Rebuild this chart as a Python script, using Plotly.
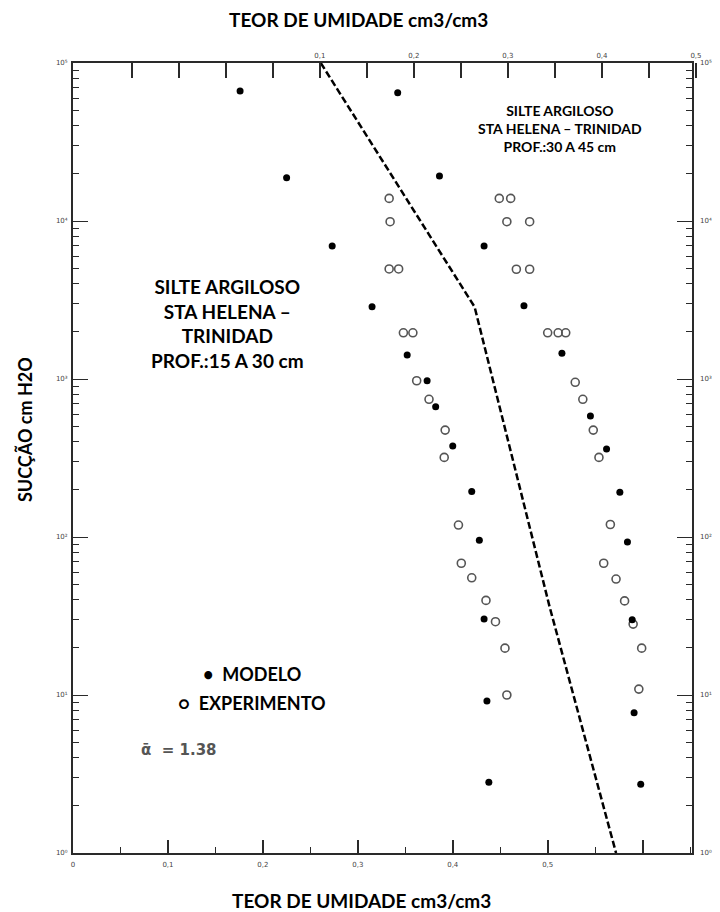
import math
import plotly.graph_objects as go

# ---- data: volumetric water content (cm3/cm3) vs suction (cm H2O) ----
# Silte argiloso, Sta Helena - Trinidad, 15-30 cm
model_15_30_theta = [0.176, 0.225, 0.273, 0.315, 0.352, 0.373, 0.382, 0.400, 0.420, 0.428, 0.433, 0.436, 0.438]
model_15_30_suction = [66500, 18800, 6950, 2870, 1420, 975, 668, 377, 194, 95.3, 30.3, 9.16, 2.80]
exp_15_30_theta = [0.333, 0.334, 0.333, 0.343, 0.348, 0.358, 0.362, 0.375, 0.392, 0.391,
                   0.406, 0.409, 0.420, 0.435, 0.445, 0.455, 0.457]
exp_15_30_suction = [13900, 9900, 4970, 4970, 1960, 1960, 975, 744, 475, 319,
                     119, 68.2, 55.2, 39.7, 29.1, 19.8, 10.0]

# Silte argiloso, Sta Helena - Trinidad, 30-45 cm
model_30_45_theta = [0.342, 0.386, 0.433, 0.475, 0.515, 0.545, 0.562, 0.576, 0.584, 0.589, 0.591, 0.598]
model_30_45_suction = [64900, 19300, 6950, 2910, 1455, 583, 361, 192, 92.9, 29.9, 7.73, 2.72]
exp_30_45_theta = [0.449, 0.461, 0.457, 0.481, 0.467, 0.481, 0.500, 0.511, 0.519, 0.529,
                   0.537, 0.548, 0.554, 0.566, 0.559, 0.572, 0.581, 0.590, 0.599, 0.596]
exp_30_45_suction = [13900, 13900, 9900, 9900, 4950, 4950, 1960, 1960, 1960, 953,
                     744, 475, 319, 120, 68.2, 54.2, 39.4, 28.1, 19.8, 10.9]

# dashed reference curve
curve_theta = [0.261, 0.423, 0.502, 0.572]
curve_suction = [100000, 2860, 36.2, 1.0]

# axis ticks
bottom_tick_vals = [0, 0.1, 0.2, 0.3, 0.4, 0.5, 0.6]
bottom_tick_text = ["0", "0,1", "0,2", "0,3", "0,4", "0,5", ""]
top_tick_vals = [-0.1, -0.05, 0, 0.05, 0.1, 0.15, 0.2, 0.25, 0.3, 0.35, 0.4, 0.45, 0.5]
top_tick_text = ["", "", "", "", "0,1", "", "0,2", "", "0,3", "", "0,4", "", "0,5"]
y_tick_vals = [1, 10, 100, 1000, 10000, 100000]
y_tick_text = ["10⁰", "10¹", "10²", "10³", "10⁴", "10⁵"]
y_minor_vals = [m * d for d in (1, 10, 100, 1000, 10000) for m in range(2, 10)]

AX = "#2a2a2a"
TICKFONT = dict(family="DejaVu Sans", size=7, color="#444")
TXT = "Lato"
CLEAR = "rgba(0,0,0,0)"

fig = go.Figure()

filled = dict(symbol="circle", size=7, color="black")
hollow = dict(symbol="circle-open", size=8, color="#555", line=dict(width=1.6, color="#555"))

fig.add_trace(go.Scatter(x=curve_theta, y=curve_suction, mode="lines",
                         line=dict(color="black", width=2.5, dash="7px,3px"),
                         showlegend=False, hoverinfo="skip"))
fig.add_trace(go.Scatter(x=exp_15_30_theta, y=exp_15_30_suction, mode="markers",
                         marker=hollow, name="EXPERIMENTO 15-30 cm", showlegend=False))
fig.add_trace(go.Scatter(x=exp_30_45_theta, y=exp_30_45_suction, mode="markers",
                         marker=hollow, name="EXPERIMENTO 30-45 cm", showlegend=False))
fig.add_trace(go.Scatter(x=model_15_30_theta, y=model_15_30_suction, mode="markers",
                         marker=filled, name="MODELO 15-30 cm", showlegend=False))
fig.add_trace(go.Scatter(x=model_30_45_theta, y=model_30_45_suction, mode="markers",
                         marker=filled, name="MODELO 30-45 cm", showlegend=False))
# carrier for the top scale (shifted water-content axis)
fig.add_trace(go.Scatter(x=[None], y=[None], xaxis="x2", yaxis="y", showlegend=False, hoverinfo="skip"))

W, H = 720, 912
L, R, T, B = 73, 20, 63, 59
pw, ph = W - L - R, H - T - B
frame_right = 692


def px(x):
    return (x - L) / pw


def py(y):
    return (H - B - y) / ph


fig.update_layout(
    width=W, height=H,
    margin=dict(l=L, r=R, t=T, b=B, pad=0),
    paper_bgcolor="white", plot_bgcolor=CLEAR,
    showlegend=False,
    xaxis=dict(
        domain=[0, (frame_right - L) / pw], range=[0, 0.652],
        showgrid=False, zeroline=False,
        showline=True, linecolor=AX, linewidth=2, mirror=True,
        ticks="inside", ticklen=13, tickwidth=1.5, tickcolor=AX,
        tickvals=bottom_tick_vals, ticktext=bottom_tick_text,
        minor=dict(ticks="inside", ticklen=6, tickwidth=1.2, tickcolor=AX, dtick=0.05, tick0=0, showgrid=False),
        tickfont=TICKFONT, ticklabelstandoff=4,
    ),
    xaxis2=dict(
        domain=[0, 1], range=[-0.1626, 0.5043], anchor="y", side="top",
        showgrid=False, zeroline=False, showline=False,
        ticks="inside", ticklen=15, tickwidth=1.6, tickcolor=AX,
        tickvals=top_tick_vals, ticktext=top_tick_text,
        tickfont=TICKFONT, ticklabelstandoff=3,
    ),
    yaxis=dict(
        type="log", range=[0, 5], anchor="x",
        showgrid=False, zeroline=False,
        showline=True, linecolor=AX, linewidth=2, mirror="ticks",
        ticks="inside", ticklen=15, tickwidth=1.3, tickcolor=AX,
        tickvals=y_tick_vals, ticktext=y_tick_text,
        minor=dict(ticks="inside", ticklen=6, tickwidth=1.1, tickcolor=AX,
                   tickmode="array", tickvals=y_minor_vals, showgrid=False),
        tickfont=TICKFONT, ticklabelstandoff=2,
    ),
)

ann = []


def add_text(text, x, y, size, color="black", family=TXT, align="center"):
    ann.append(dict(text=text, x=px(x), y=py(y), xref="paper", yref="paper",
                    showarrow=False, xanchor="center", yanchor="middle", align=align,
                    font=dict(family=family, size=size, color=color)))


# decade labels repeated on the right-hand side of the frame
for v, t in zip(y_tick_vals, y_tick_text):
    ann.append(dict(text=t, x=px(frame_right + 6), y=math.log10(v), xref="paper", yref="y",
                    showarrow=False, xanchor="left", yanchor="middle", font=TICKFONT))

add_text("<b>TEOR DE UMIDADE cm3/cm3</b>", 358, 20, 19)
add_text("<b>TEOR DE UMIDADE cm3/cm3</b>", 361, 900, 19)
ann.append(dict(text="<b>SUCÇÃO cm H2O</b>", x=px(25), y=py(430), xref="paper", yref="paper",
                showarrow=False, textangle=-90, xanchor="center", yanchor="middle",
                font=dict(family=TXT, size=18, color="black")))
add_text("<b>SILTE ARGILOSO<br>STA HELENA – TRINIDAD<br>PROF.:30 A 45 cm</b>", 560, 128.7, 14)
add_text("<b>SILTE ARGILOSO<br>STA HELENA –<br>TRINIDAD<br>PROF.:15 A 30 cm</b>", 227, 323.5, 19)
add_text("<b>•  MODELO</b>", 252, 674, 18)
add_text("<b>○  EXPERIMENTO</b>", 252, 703, 18)
add_text("<b>ᾱ  = 1.38</b>", 179, 750, 15, color="#555", family="DejaVu Sans")

fig.update_layout(annotations=ann)

fig.write_html("out.html")
